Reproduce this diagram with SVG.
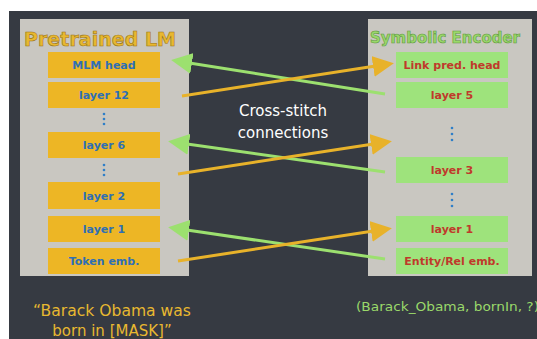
<svg xmlns="http://www.w3.org/2000/svg" width="537" height="339" viewBox="0 0 537 339">
<defs>
<style>
.panel{fill:#c9c7c1}
.ybox{fill:#edb625}
.gbox{fill:#9ee37c}
.bt{fill:#2f6fb5;font-family:"DejaVu Sans",sans-serif;font-size:11px;font-weight:bold;text-anchor:middle}
.rt{fill:#c0392b;font-family:"DejaVu Sans",sans-serif;font-size:11px;font-weight:bold;text-anchor:middle}
.dot{fill:#2f7fc8}
.title{font-family:"DejaVu Sans",sans-serif;font-weight:bold;text-anchor:middle;stroke-width:0.6}
.g{stroke:#9ce06f;stroke-width:3;fill:none}
.o{stroke:#e8b22a;stroke-width:3;fill:none}
</style>
<marker id="ag" markerWidth="7" markerHeight="7" refX="3" refY="3.5" orient="auto" markerUnits="strokeWidth"><path d="M0,0 L7,3.5 L0,7 z" fill="#9ce06f"/></marker>
<marker id="ao" markerWidth="7" markerHeight="7" refX="3" refY="3.5" orient="auto" markerUnits="strokeWidth"><path d="M0,0 L7,3.5 L0,7 z" fill="#e8b22a"/></marker>
</defs>
<rect width="537" height="339" fill="#ffffff"/>
<rect x="9" y="11" width="528" height="328" fill="#363a42"/>

<g id="pretrained-lm">
<rect class="panel" x="20" y="19" width="169" height="257"/>
<text class="title" x="100" y="46" font-size="20" fill="#e8b830" stroke="#9a7415" textLength="152" lengthAdjust="spacingAndGlyphs">Pretrained LM</text>
</g>
<g id="mlm-head"><rect class="ybox" x="48" y="52" width="112" height="26"/><text class="bt" x="104" y="69">MLM head</text></g>
<g id="layer-12"><rect class="ybox" x="48" y="82" width="112" height="26"/><text class="bt" x="104" y="99">layer 12</text></g>
<g id="dots-l1"><circle class="dot" cx="104" cy="114" r="1.3"/><circle class="dot" cx="104" cy="119" r="1.3"/><circle class="dot" cx="104" cy="124" r="1.3"/></g>
<g id="layer-6"><rect class="ybox" x="48" y="132" width="112" height="26"/><text class="bt" x="104" y="149">layer 6</text></g>
<g id="dots-l2"><circle class="dot" cx="104" cy="165" r="1.3"/><circle class="dot" cx="104" cy="170" r="1.3"/><circle class="dot" cx="104" cy="175" r="1.3"/></g>
<g id="layer-2"><rect class="ybox" x="48" y="182" width="112" height="27"/><text class="bt" x="104" y="200">layer 2</text></g>
<g id="layer-1-lm"><rect class="ybox" x="48" y="216" width="112" height="26"/><text class="bt" x="104" y="233">layer 1</text></g>
<g id="token-emb"><rect class="ybox" x="48" y="248" width="112" height="26"/><text class="bt" x="104" y="265">Token emb.</text></g>

<g id="symbolic-encoder">
<rect class="panel" x="368" y="19" width="164" height="257"/>
<text class="title" x="445" y="43" font-size="15" fill="#9ad86a" stroke="#5f9a40" textLength="150" lengthAdjust="spacingAndGlyphs">Symbolic Encoder</text>
</g>
<g id="link-pred-head"><rect class="gbox" x="396" y="52" width="112" height="26"/><text class="rt" x="452" y="69">Link pred. head</text></g>
<g id="layer-5"><rect class="gbox" x="396" y="82" width="112" height="26"/><text class="rt" x="452" y="99">layer 5</text></g>
<g id="dots-r1"><circle class="dot" cx="452" cy="128" r="1.3"/><circle class="dot" cx="452" cy="134" r="1.3"/><circle class="dot" cx="452" cy="140" r="1.3"/></g>
<g id="layer-3"><rect class="gbox" x="396" y="157" width="112" height="26"/><text class="rt" x="452" y="174">layer 3</text></g>
<g id="dots-r2"><circle class="dot" cx="452" cy="194" r="1.3"/><circle class="dot" cx="452" cy="200" r="1.3"/><circle class="dot" cx="452" cy="206" r="1.3"/></g>
<g id="layer-1-se"><rect class="gbox" x="396" y="216" width="112" height="26"/><text class="rt" x="452" y="233">layer 1</text></g>
<g id="entity-rel-emb"><rect class="gbox" x="396" y="248" width="112" height="26"/><text class="rt" x="452" y="265">Entity/Rel emb.</text></g>

<g id="connectors">
<line class="g" x1="385" y1="94" x2="183" y2="62" marker-end="url(#ag)"/>
<line class="g" x1="385" y1="172" x2="180" y2="143" marker-end="url(#ag)"/>
<line class="g" x1="385" y1="259" x2="180" y2="229" marker-end="url(#ag)"/>
<line class="o" x1="182" y1="96" x2="382" y2="65" marker-end="url(#ao)"/>
<line class="o" x1="178" y1="174" x2="380" y2="143" marker-end="url(#ao)"/>
<line class="o" x1="178" y1="261" x2="380" y2="230" marker-end="url(#ao)"/>
</g>

<g id="labels" font-family="DejaVu Sans, sans-serif">
<text x="283" y="116" font-size="15" fill="#ffffff" text-anchor="middle">Cross-stitch</text>
<text x="283" y="138" font-size="15" fill="#ffffff" text-anchor="middle">connections</text>
<text x="112" y="316" font-size="15" fill="#e8b830" text-anchor="middle" textLength="158" lengthAdjust="spacingAndGlyphs">“Barack Obama was</text>
<text x="112" y="336" font-size="15" fill="#e8b830" text-anchor="middle">born in [MASK]”</text>
<text x="356" y="311" font-size="13" fill="#9ad86a" textLength="183" lengthAdjust="spacingAndGlyphs">(Barack_Obama, bornIn, ?)</text>
</g>
</svg>
